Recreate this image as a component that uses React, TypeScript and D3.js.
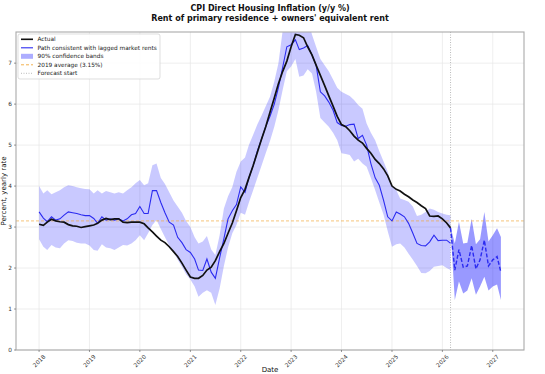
import React, { useEffect, useRef } from 'react';
import * as d3 from 'd3';

// Monthly values, Jan 2018 .. Mar 2026
const actual = [
  3.07, 3.04, 3.12, 3.19, 3.15, 3.13, 3.12, 3.06, 3.03, 3.02, 2.99, 3.01,
  3.03, 3.05, 3.09, 3.17, 3.21, 3.18, 3.20, 3.20, 3.12, 3.11, 3.12, 3.12,
  3.12, 3.08, 2.98, 2.88, 2.78, 2.68, 2.62, 2.52, 2.40, 2.28, 2.12, 1.95,
  1.78, 1.75, 1.75, 1.82, 1.95, 2.02, 2.18, 2.40, 2.60, 2.85, 3.10, 3.40,
  3.72, 3.92, 4.20, 4.50, 4.82, 5.15, 5.45, 5.80, 6.15, 6.50, 6.80, 7.05,
  7.40, 7.70, 7.68, 7.62, 7.40, 7.20, 6.95, 6.70, 6.45, 6.20, 5.95, 5.70,
  5.50, 5.45, 5.35, 5.22, 5.12, 5.05, 4.92, 4.80, 4.65, 4.55, 4.42, 4.25,
  4.00, 3.92, 3.88, 3.80, 3.74, 3.66, 3.60, 3.52, 3.45, 3.27, 3.26, 3.27,
  3.20, 3.10, 2.98,
];

const modelPath = [
  3.37, 3.22, 3.13, 3.25, 3.17, 3.20, 3.29, 3.37, 3.35, 3.33, 3.30, 3.28,
  3.28, 3.21, 3.09, 3.25, 3.17, 3.20, 3.17, 3.20, 3.15, 3.20, 3.30, 3.33,
  3.50, 3.33, 3.33, 3.89, 3.89, 3.60, 3.35, 3.12, 3.05, 2.75, 2.62, 2.45,
  2.38, 2.22, 1.95, 1.94, 2.22, 1.90, 1.75, 2.25, 2.72, 3.20, 3.40, 3.55,
  3.98, 3.85, 4.20, 4.50, 4.85, 5.15, 5.45, 5.70, 6.00, 6.40, 6.90, 7.40,
  7.45, 7.57, 7.33, 7.37, 7.43, 7.20, 6.95, 6.30, 6.20, 6.05, 5.85, 5.55,
  5.48, 5.46, 5.50, 5.51, 5.16, 5.24, 5.00, 4.55, 4.20, 4.02, 3.65, 3.25,
  3.15, 3.37, 3.32, 3.25, 3.09, 2.85, 2.60, 2.55, 2.54, 2.64, 2.80, 2.67,
  2.68, 2.68, 2.60,
];

const bandUpper = [
  4.00, 3.82, 3.90, 3.80, 3.85, 3.90, 3.97, 4.02, 4.00, 3.97, 3.95, 3.93,
  3.92, 3.82, 3.90, 3.82, 3.88, 3.85, 3.82, 3.85, 3.82, 3.90, 3.97, 4.07,
  4.15, 4.02, 4.07, 4.51, 4.55, 4.20, 4.05, 3.85, 3.65, 3.50, 3.35, 3.15,
  3.00, 2.75, 2.60, 2.65, 2.78, 2.45, 2.32, 2.80, 3.45, 3.75, 3.98, 4.35,
  4.60, 4.70, 5.00, 5.25, 5.50, 5.72, 5.95, 6.18, 6.55, 7.00, 7.80, 8.20,
  8.20, 8.30, 8.00, 8.05, 8.10, 7.70, 7.40, 7.10, 6.95, 6.80, 6.60, 6.40,
  6.30, 6.25, 6.20, 6.10, 5.98, 5.89, 5.53, 5.30, 5.12, 4.85, 4.60, 4.35,
  4.00, 3.90, 3.70, 3.66, 3.62, 3.50, 3.27, 3.30, 3.37, 3.45, 3.42, 3.37,
  3.33, 3.30, 3.29,
];

const bandLower = [
  2.70, 2.52, 2.44, 2.56, 2.50, 2.48, 2.60, 2.68, 2.66, 2.62, 2.60, 2.60,
  2.55, 2.44, 2.42, 2.58, 2.50, 2.48, 2.44, 2.50, 2.56, 2.55, 2.60, 2.68,
  2.80, 2.68, 2.85, 3.05, 3.17, 2.95, 2.75, 2.55, 2.40, 2.20, 2.03, 1.85,
  1.72, 1.55, 1.30, 1.40, 1.46, 1.40, 1.10, 1.50, 2.05, 2.50, 2.85, 3.05,
  3.35, 3.30, 3.60, 3.90, 4.20, 4.50, 4.80, 5.10, 5.45, 5.85, 6.35, 6.80,
  6.92, 7.10, 6.67, 6.70, 6.85, 6.75, 6.30, 5.66, 5.55, 5.45, 5.30, 5.12,
  4.80, 4.78, 4.76, 4.60, 4.67, 4.55, 4.47, 4.20, 3.90, 3.60, 3.30, 2.90,
  2.52, 2.58, 2.60, 2.50, 2.35, 2.20, 2.05, 1.88, 1.87, 1.93, 2.03, 2.05,
  2.07, 2.00, 1.95,
];

// Forecast, Mar 2026 .. Mar 2027
const forecastPath = [2.98, 1.95, 2.45, 2.02, 2.05, 2.55, 1.98, 2.20, 2.68, 2.05, 2.20, 2.28, 1.90];
const forecastUpper = [3.00, 2.60, 3.13, 2.60, 2.62, 3.20, 2.58, 2.70, 3.37, 2.65, 2.80, 2.97, 2.76];
const forecastLower = [2.95, 1.22, 1.67, 1.38, 1.45, 1.75, 1.35, 1.55, 1.79, 1.45, 1.55, 1.60, 1.22];

const avg2019 = 3.15;
const yTicks = [0, 1, 2, 3, 4, 5, 6, 7];
const yearTicks = [2018, 2019, 2020, 2021, 2022, 2023, 2024, 2025, 2026, 2027];
const titleLines = [
  'CPI Direct Housing Inflation (y/y %)',
  "Rent of primary residence + owners' equivalent rent",
];
const legendLabels = [
  'Actual',
  'Path consistent with lagged market rents',
  '90% confidence bands',
  '2019 average (3.15%)',
  'Forecast start',
];

const renderChart = (svgElement: SVGSVGElement) => {
  const width = 545;
  const height = 374;
  const margin = { top: 32, right: 21, bottom: 24, left: 16 };
  const innerW = width - margin.left - margin.right;
  const innerH = height - margin.top - margin.bottom;

  // Clear previous render
  d3.select(svgElement).selectAll('*').remove();

  const svg = d3.select(svgElement)
    .attr('width', width)
    .attr('height', height)
    .attr('font-family', 'DejaVu Sans, sans-serif');

  svg.append('rect').attr('width', width).attr('height', height).attr('fill', '#fff');

  const histDates = d3.timeMonth.range(new Date(2018, 0, 1), new Date(2026, 3, 1));
  const fcDates = d3.timeMonth.range(new Date(2026, 2, 1), new Date(2027, 3, 1));

  // Scales (5% side margins like matplotlib)
  const t0 = +histDates[0];
  const t1 = +fcDates[fcDates.length - 1];
  const pad = (t1 - t0) * 0.05;
  const x = d3.scaleTime()
    .domain([new Date(t0 - pad), new Date(t1 + pad)])
    .range([0, innerW]);
  const y = d3.scaleLinear().domain([0, 7.76]).range([innerH, 0]);

  const g = svg.append('g').attr('transform', `translate(${margin.left},${margin.top})`);

  svg.append('defs').append('clipPath').attr('id', 'plot-clip')
    .append('rect').attr('width', innerW).attr('height', innerH);

  // Grid
  const grid = g.append('g').attr('stroke', '#e6e6e6').attr('stroke-width', 0.7);
  grid.selectAll('.vg').data(yearTicks).enter().append('line')
    .attr('x1', d => x(new Date(d, 0, 1))).attr('x2', d => x(new Date(d, 0, 1)))
    .attr('y1', 0).attr('y2', innerH);
  grid.selectAll('.hg').data(yTicks).enter().append('line')
    .attr('x1', 0).attr('x2', innerW)
    .attr('y1', d => y(d)).attr('y2', d => y(d));

  const plot = g.append('g').attr('clip-path', 'url(#plot-clip)');

  // Confidence bands
  const histArea = d3.area<number>()
    .x((d, i) => x(histDates[i]))
    .y0((d, i) => y(bandLower[i]))
    .y1(d => y(d));
  plot.append('path').datum(bandUpper)
    .attr('d', histArea).attr('fill', '#0000ff').attr('fill-opacity', 0.21);

  const fcArea = d3.area<number>()
    .x((d, i) => x(fcDates[i]))
    .y0((d, i) => y(forecastLower[i]))
    .y1(d => y(d));
  plot.append('path').datum(forecastUpper)
    .attr('d', fcArea).attr('fill', '#0000ff').attr('fill-opacity', 0.4);

  // 2019 average
  plot.append('line')
    .attr('x1', 0).attr('x2', innerW)
    .attr('y1', y(avg2019)).attr('y2', y(avg2019))
    .attr('stroke', '#f2a93b').attr('stroke-opacity', 0.85)
    .attr('stroke-width', 0.8).attr('stroke-dasharray', '3,2');

  // Forecast start
  const fs = x(fcDates[0]);
  plot.append('line')
    .attr('x1', fs).attr('x2', fs).attr('y1', 0).attr('y2', innerH)
    .attr('stroke', '#aaa').attr('stroke-width', 0.8).attr('stroke-dasharray', '1,1.5');

  const histLine = d3.line<number>().x((d, i) => x(histDates[i])).y(d => y(d));
  const fcLine = d3.line<number>().x((d, i) => x(fcDates[i])).y(d => y(d));

  plot.append('path').datum(modelPath)
    .attr('d', histLine).attr('fill', 'none')
    .attr('stroke', '#2b2bf0').attr('stroke-width', 1.1);

  plot.append('path').datum(actual)
    .attr('d', histLine).attr('fill', 'none')
    .attr('stroke', '#111').attr('stroke-width', 1.7);

  plot.append('path').datum(forecastPath)
    .attr('d', fcLine).attr('fill', 'none')
    .attr('stroke', '#2b2bf0').attr('stroke-width', 1.4)
    .attr('stroke-dasharray', '4,2');

  // Spines
  g.append('rect')
    .attr('width', innerW).attr('height', innerH)
    .attr('fill', 'none').attr('stroke', '#aaa').attr('stroke-width', 1.1);

  // Y axis
  g.selectAll('.ytick').data(yTicks).enter().append('line')
    .attr('x1', -2).attr('x2', 0)
    .attr('y1', d => y(d)).attr('y2', d => y(d))
    .attr('stroke', '#555').attr('stroke-width', 0.6);
  g.selectAll('.ylab').data(yTicks).enter().append('text')
    .attr('x', -4)
    .attr('y', d => y(d))
    .attr('dy', '0.35em')
    .attr('text-anchor', 'end')
    .attr('font-size', '5.8px')
    .attr('fill', '#333')
    .text(d => d);

  // X axis
  g.selectAll('.xtick').data(yearTicks).enter().append('line')
    .attr('x1', d => x(new Date(d, 0, 1))).attr('x2', d => x(new Date(d, 0, 1)))
    .attr('y1', innerH).attr('y2', innerH + 2)
    .attr('stroke', '#555').attr('stroke-width', 0.6);
  g.selectAll('.xlab').data(yearTicks).enter().append('text')
    .attr('transform', d => `translate(${x(new Date(d, 0, 1))},${innerH + 11}) rotate(-45)`)
    .attr('dy', '0.35em')
    .attr('text-anchor', 'middle')
    .attr('font-size', '5.8px')
    .attr('fill', '#333')
    .text(d => d);

  // Axis labels
  svg.append('text')
    .attr('x', margin.left + innerW / 2).attr('y', 371.5)
    .attr('text-anchor', 'middle').attr('font-size', '7px').attr('fill', '#111')
    .text('Date');
  svg.append('text')
    .attr('transform', `translate(3.5,${margin.top + innerH / 2}) rotate(-90)`)
    .attr('dy', '0.35em')
    .attr('text-anchor', 'middle').attr('font-size', '7px').attr('fill', '#111')
    .text('Percent, yearly rate');

  // Title
  svg.selectAll('.title').data(titleLines).enter().append('text')
    .attr('x', margin.left + innerW / 2)
    .attr('y', (d, i) => 11 + i * 10)
    .attr('text-anchor', 'middle')
    .attr('font-size', '8px')
    .attr('font-weight', 'bold')
    .attr('fill', '#111')
    .text(d => d);

  // Legend
  const lg = svg.append('g').attr('transform', 'translate(18,34)');
  lg.append('rect')
    .attr('width', 142).attr('height', 45).attr('rx', 2)
    .attr('fill', '#fff').attr('fill-opacity', 0.85)
    .attr('stroke', '#d0d0d0').attr('stroke-width', 0.7);
  const rowY = (i: number) => 5.3 + i * 8.5;
  lg.append('line').attr('x1', 3).attr('x2', 15).attr('y1', rowY(0)).attr('y2', rowY(0))
    .attr('stroke', '#111').attr('stroke-width', 1.6);
  lg.append('line').attr('x1', 3).attr('x2', 15).attr('y1', rowY(1)).attr('y2', rowY(1))
    .attr('stroke', '#2b2bf0').attr('stroke-width', 1.1);
  lg.append('rect').attr('x', 3).attr('y', rowY(2) - 2.5).attr('width', 12).attr('height', 5)
    .attr('fill', '#0000ff').attr('fill-opacity', 0.32);
  lg.append('line').attr('x1', 3).attr('x2', 15).attr('y1', rowY(3)).attr('y2', rowY(3))
    .attr('stroke', '#f2a93b').attr('stroke-width', 0.9).attr('stroke-dasharray', '3,2');
  lg.append('line').attr('x1', 3).attr('x2', 15).attr('y1', rowY(4)).attr('y2', rowY(4))
    .attr('stroke', '#aaa').attr('stroke-width', 0.8).attr('stroke-dasharray', '1,1.5');
  lg.selectAll('.ltext').data(legendLabels).enter().append('text')
    .attr('x', 19.5)
    .attr('y', (d, i) => rowY(i))
    .attr('dy', '0.35em')
    .attr('font-size', '5.8px')
    .attr('fill', '#222')
    .text(d => d);
};

const App: React.FC = () => {
  const svgRef = useRef<SVGSVGElement>(null);

  useEffect(() => {
    if (!svgRef.current) return;
    renderChart(svgRef.current);
  }, []);

  return (
    <svg
      ref={svgRef}
      style={{ position: 'absolute', left: 0, top: 0, display: 'block' }}
    />
  );
};

export default App;
